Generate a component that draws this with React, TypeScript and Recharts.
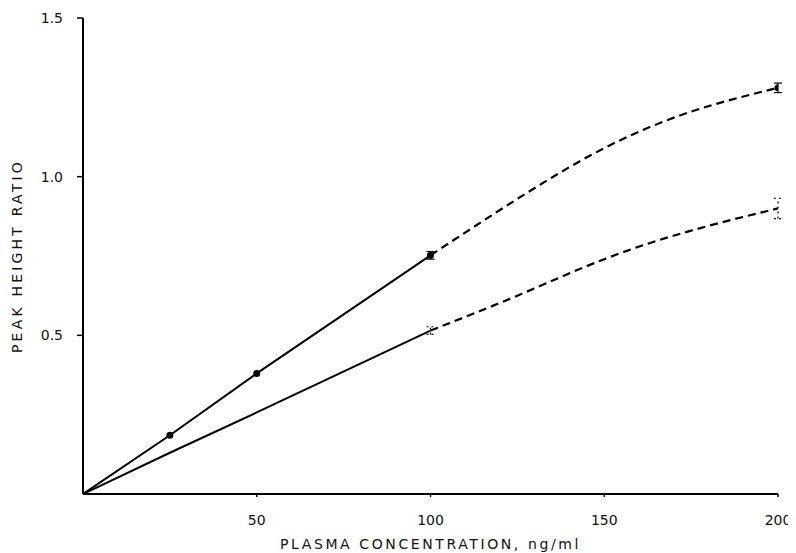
import React from 'react';
import { ComposedChart, Line, Scatter, XAxis, YAxis, ErrorBar } from 'recharts';

const xTicks = [50, 100, 150, 200];
const yTicks = [0.5, 1.0, 1.5];

const upperSolid = [
  { x: 0, y: 0 },
  { x: 25, y: 0.185 },
  { x: 50, y: 0.38 },
  { x: 100, y: 0.752 },
];
const upperDashed = [
  { x: 100, y: 0.752 },
  { x: 125, y: 0.93 },
  { x: 150, y: 1.09 },
  { x: 175, y: 1.205 },
  { x: 200, y: 1.28 },
];
const lowerSolid = [
  { x: 0, y: 0 },
  { x: 25, y: 0.13 },
  { x: 50, y: 0.257 },
  { x: 100, y: 0.515 },
];
const lowerDashed = [
  { x: 100, y: 0.515 },
  { x: 125, y: 0.625 },
  { x: 150, y: 0.74 },
  { x: 175, y: 0.83 },
  { x: 200, y: 0.9 },
];
const upperPoints = [
  { x: 25, y: 0.185, err: 0 },
  { x: 50, y: 0.38, err: 0 },
  { x: 100, y: 0.752, err: 0.012 },
  { x: 200, y: 1.28, err: 0.015 },
];
const lowerPoints = [
  { x: 100, y: 0.515, err: 0.012 },
  { x: 200, y: 0.9, err: 0.032 },
];

const FONT = '"DejaVu Sans", sans-serif';

const Dot = (p: any) => <circle cx={p.cx} cy={p.cy} r={3.5} fill="#000" />;
const NoDot = () => <g />;

export default function App() {
  return (
    <div style={{ width: 780, height: 545, background: '#fff', overflow: 'visible' }}>
      <ComposedChart
        width={788}
        height={545}
        margin={{ top: 10, right: 18, bottom: 14, left: 15 }}
      >
        <XAxis
          type="number"
          dataKey="x"
          domain={[0, 200]}
          ticks={xTicks}
          allowDataOverflow
          axisLine={{ stroke: '#000', strokeWidth: 2 }}
          tickLine={{ stroke: '#000', strokeWidth: 1.5 }}
          tickSize={3}
          tickMargin={18}
          height={45}
          tick={{ fill: '#111', fontSize: 14, fontFamily: FONT }}
          label={{
            value: 'PLASMA CONCENTRATION, ng/ml',
            position: 'insideBottom',
            offset: -10,
            style: { fill: '#111', fontSize: 14, fontFamily: FONT, letterSpacing: 2.6 },
          }}
        />
        <YAxis
          type="number"
          dataKey="y"
          domain={[0, 1.5]}
          ticks={yTicks}
          allowDataOverflow
          width={60}
          axisLine={{ stroke: '#000', strokeWidth: 2 }}
          tickLine={{ stroke: '#000', strokeWidth: 1.5 }}
          tickSize={6}
          tickMargin={14}
          tickFormatter={(v: number) => v.toFixed(1)}
          tick={{ fill: '#111', fontSize: 14, fontFamily: FONT }}
          label={{
            value: 'PEAK HEIGHT RATIO',
            angle: -90,
            position: 'insideLeft',
            offset: -6,
            style: { fill: '#111', fontSize: 14, fontFamily: FONT, letterSpacing: 3.2, textAnchor: 'middle' },
          }}
        />
        <Line data={upperSolid} dataKey="y" type="linear" stroke="#000" strokeWidth={2} dot={false} isAnimationActive={false} />
        <Line data={upperDashed} dataKey="y" type="natural" stroke="#000" strokeWidth={2.2} strokeDasharray="8 5" dot={false} isAnimationActive={false} />
        <Line data={lowerSolid} dataKey="y" type="linear" stroke="#000" strokeWidth={2} dot={false} isAnimationActive={false} />
        <Line data={lowerDashed} dataKey="y" type="natural" stroke="#000" strokeWidth={2.2} strokeDasharray="8 5" dot={false} isAnimationActive={false} />
        <Scatter data={upperPoints} dataKey="y" shape={Dot} isAnimationActive={false}>
          <ErrorBar dataKey="err" direction="y" width={4} stroke="#000" strokeWidth={1.2} />
        </Scatter>
        <Scatter data={lowerPoints} dataKey="y" shape={NoDot} isAnimationActive={false}>
          <ErrorBar dataKey="err" direction="y" width={4} stroke="#000" strokeWidth={1.2} strokeDasharray="2 3" />
        </Scatter>
      </ComposedChart>
    </div>
  );
}
